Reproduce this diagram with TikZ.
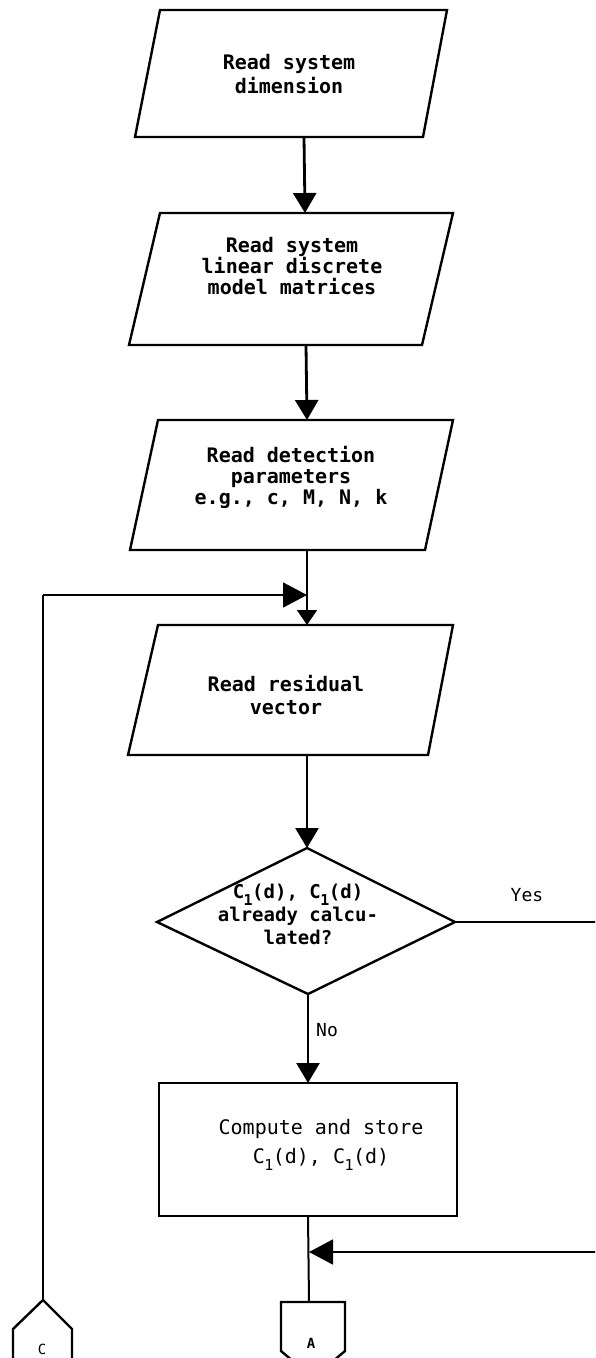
\documentclass[tikz,border=0pt]{standalone}
\usepackage{fontspec}
\newfontfamily\mono{DejaVu Sans Mono}
\usetikzlibrary{arrows.meta}
\newcommand{\lowone}{\makebox[8pt]{\raisebox{-7pt}{\fontsize{15}{15}\selectfont 1}}}
\begin{document}
\begin{tikzpicture}[x=1pt,y=-1pt,
  shapeline/.style={line width=2.4pt, line join=miter},
  flow/.style={line width=2.8pt, -{Triangle[width=23pt,length=20pt]}},
  thinflow/.style={line width=1.8pt, -{Triangle[width=25pt,length=24pt]}},
  thinstem/.style={line width=1.6pt, -{Triangle[width=20pt,length=15pt]}},
  plain/.style={line width=2pt},
  boxtext/.style={font=\mono\bfseries\fontsize{20}{21}\selectfont, align=center, inner sep=0pt},
  lbl/.style={font=\mono\fontsize{18}{18}\selectfont, inner sep=0pt}]
\useasboundingbox (0,0) rectangle (595,1358);
\clip (0,0) rectangle (595,1358);

% parallelograms
\draw[shapeline] (160,10) -- (447,10) -- (423,137) -- (135,137) -- cycle;
\draw[shapeline] (160,213) -- (453,213) -- (422,345) -- (129,345) -- cycle;
\draw[shapeline] (158,420) -- (453,420) -- (425,550) -- (130,550) -- cycle;
\draw[shapeline] (158,625) -- (453,625) -- (428,755) -- (128,755) -- cycle;
% decision
\draw[shapeline] (307,848) -- (455,922) -- (308,994) -- (157,922) -- cycle;
% process
\draw[shapeline] (159,1083) rectangle (457,1216);
% off-page connectors
\draw[shapeline] (281,1302) -- (345,1302) -- (345,1351) -- (313,1378) -- (281,1351) -- cycle;
\draw[shapeline] (43,1300) -- (72,1329) -- (72,1375) -- (13,1375) -- (13,1329) -- cycle;

% named points
\coordinate (b1s) at (304,137);
\coordinate (b2n) at (305,213);
\coordinate (b2s) at (306,345);
\coordinate (b3n) at (307,420);
\coordinate (b3s) at (307,550);
\coordinate (b4n) at (307,625);
\coordinate (b4s) at (307,755);
\coordinate (dn) at (307,848);
\coordinate (ds) at (308,994);
\coordinate (de) at (455,922);
\coordinate (cpn) at (308,1083);
\coordinate (cps) at (308,1216);
\coordinate (An) at (309,1302);
\coordinate (Cn) at (43,1300);
\coordinate (corner) at (43,595);
\coordinate (fb) at (307,595);
\coordinate (mg) at (309,1252);
\coordinate (yesend) at (600,922);
\coordinate (mgstart) at (600,1252);

% texts
\node[boxtext, font=\mono\bfseries\fontsize{20}{24}\selectfont] (t1) at (289,74) {Read system\\dimension};
\node[boxtext] (t2) at (292,266) {Read system\\linear discrete\\model matrices};
\node[boxtext] (t3) at (291,477) {Read detection\\parameters\\e.g., c, M, N, k};
\node[boxtext, font=\mono\bfseries\fontsize{20}{23}\selectfont] (t4) at (286,695) {Read residual\\vector};
\node[boxtext, font=\mono\bfseries\fontsize{19}{23}\selectfont] (t5) at (298,914) {C\lowone(d), C\lowone(d)\\already calcu-\\lated?};
\node[boxtext, font=\mono\fontsize{20}{29}\selectfont] (t6) at (321,1145) {Compute and store\\C\lowone(d), C\lowone(d)};
\node[lbl] (yes) at (527,895) {Yes};
\node[lbl] (no) at (327,1030) {No};
\node[lbl, font=\mono\fontsize{14}{14}\selectfont] (cl) at (42,1349) {C};
\node[lbl, font=\mono\bfseries\fontsize{14}{14}\selectfont] (al) at (311,1343) {A};

% connectors
\draw[flow] (b1s) -- (b2n);
\draw[flow] (b2s) -- (b3n);
\draw[thinstem] (b3s) -- (b4n);
\draw[flow] (b4s) -- (dn);
\draw[flow] (ds) -- (cpn);
\draw[plain] (de) -- (yesend);
\draw[plain] (cps) -- (An);
\draw[plain] (Cn) -- (corner);
\draw[thinflow] (corner) -- (fb);
\draw[thinflow] (mgstart) -- (mg);
\end{tikzpicture}
\end{document}
